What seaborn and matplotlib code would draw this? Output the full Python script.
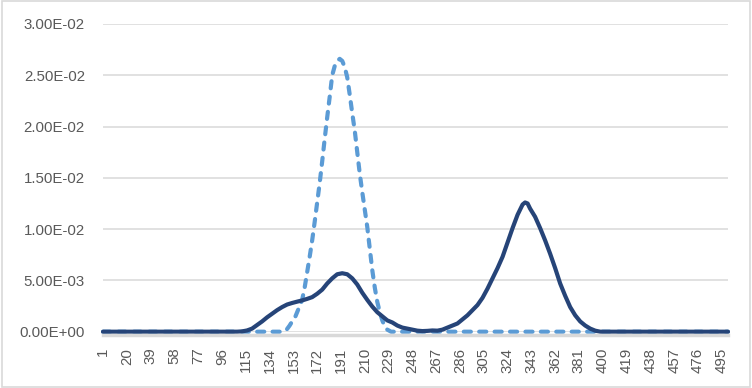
import matplotlib
matplotlib.use('Agg')
import pandas as pd
import matplotlib.pyplot as plt
import seaborn as sns
from matplotlib.patches import Rectangle
from matplotlib.ticker import FuncFormatter

# values (x = category number 1..500)
solid_x = [1, 108, 112, 116, 120, 124, 128, 132, 136, 140, 144, 148, 152,
           156, 160, 164, 168, 172, 176, 180, 184, 188, 192, 196, 200, 204,
           208, 212, 216, 220, 224, 228, 232, 236, 240, 244, 248, 252, 256,
           260, 264, 268, 272, 276, 280, 284, 288, 292, 296, 300, 304, 308,
           312, 316, 320, 324, 328, 332, 336, 338, 340, 342, 346, 350, 354,
           358, 362, 366, 370, 374, 378, 382, 386, 390, 394, 398, 500]
solid_y = [0, 0, 0.00003, 0.00012, 0.0003, 0.00065, 0.001, 0.0014, 0.00175,
           0.0021, 0.0024, 0.00265, 0.0028, 0.00293, 0.00305, 0.0032,
           0.00337, 0.0037, 0.0041, 0.0047, 0.0052, 0.0056, 0.0057, 0.0056,
           0.0052, 0.0046, 0.0038, 0.0031, 0.00245, 0.0019, 0.0015, 0.0011,
           0.0009, 0.0006, 0.0004, 0.0003, 0.0002, 0.0001, 0.00006, 0.00008,
           0.00012, 0.0001, 0.0002, 0.0004, 0.0006, 0.0008, 0.0012, 0.0016,
           0.0021, 0.0026, 0.0033, 0.0042, 0.0052, 0.0062, 0.0073, 0.0087,
           0.0101, 0.0114, 0.0124, 0.0126, 0.0125, 0.0120, 0.0112, 0.0101,
           0.0089, 0.0076, 0.0062, 0.0047, 0.0035, 0.0024, 0.0016, 0.0010,
           0.0006, 0.0003, 0.0001, 0, 0]

dashed_x = [1, 140, 144, 147, 150, 152, 154, 156, 158, 160, 162, 164, 166,
            168, 170, 172, 174, 176, 178, 180, 182, 184, 186, 188, 190, 192,
            194, 196, 198, 200, 202, 204, 206, 208, 210, 212, 214, 216, 218,
            220, 222, 224, 226, 228, 231, 500]
dashed_y = [0, 0, 0, 0.0001, 0.0006, 0.0010, 0.0013, 0.0019, 0.0025, 0.0031,
            0.0043, 0.0058, 0.0073, 0.0089, 0.0107, 0.0126, 0.0145, 0.0166,
            0.0188, 0.0209, 0.0229, 0.0250, 0.0259, 0.0264, 0.0266, 0.0264,
            0.0258, 0.0248, 0.0231, 0.0213, 0.0196, 0.0175, 0.0154, 0.0136,
            0.0119, 0.0102, 0.0081, 0.0060, 0.0043, 0.0029, 0.0019, 0.0011,
            0.0005, 0.0002, 0, 0]

x_ticks = [1, 20, 39, 58, 77, 96, 115, 134, 153, 172, 191, 210, 229, 248,
           267, 286, 305, 324, 343, 362, 381, 400, 419, 438, 457, 476, 495]
y_ticks = [0, 0.005, 0.01, 0.015, 0.02, 0.025, 0.03]

solid = pd.DataFrame({'x': solid_x, 'y': solid_y})
dashed = pd.DataFrame({'x': dashed_x, 'y': dashed_y})

sns.set_style('white')
plt.rcParams['font.family'] = ['Liberation Sans', 'DejaVu Sans']

fig = plt.figure(figsize=(7.52, 3.88), dpi=100)
ax = fig.add_axes([103 / 752, (388 - 331.7) / 388, 625 / 752, 307.7 / 388])

# dashed series first, solid drawn on top
sns.lineplot(data=dashed, x='x', y='y', ax=ax, color='#5B9BD5', lw=3.0,
             estimator=None, sort=False, clip_on=False)
ln = ax.lines[-1]
ln.set_dashes([1.7, 2.0])
ln.set_dash_capstyle('round')
ln.set_solid_joinstyle('round')

sns.lineplot(data=solid, x='x', y='y', ax=ax, color='#264478', lw=3.0,
             estimator=None, sort=False, clip_on=False)
ax.lines[-1].set_solid_capstyle('round')
ax.lines[-1].set_solid_joinstyle('round')

ax.set_xlim(1, 500)
ax.set_ylim(0, 0.03)
ax.set_xticks(x_ticks)
ax.set_xticklabels([str(t) for t in x_ticks])
ax.set_yticks(y_ticks)
ax.yaxis.set_major_formatter(FuncFormatter(lambda v, p: f'{v:.2E}'))
ax.set_xlabel('')
ax.set_ylabel('')

ax.grid(axis='y', color='#D9D9D9', lw=1.1)
ax.set_axisbelow(True)
ax.tick_params(axis='x', length=0, pad=9, labelsize=10.8, colors='#595959',
               labelrotation=90)
ax.tick_params(axis='y', length=0, pad=13, labelsize=10.8, colors='#595959')

for s in ['top', 'right', 'left']:
    ax.spines[s].set_visible(False)
ax.spines['bottom'].set_color('#D9D9D9')
ax.spines['bottom'].set_linewidth(2.5)
ax.spines['bottom'].set_position(('outward', 2.5))

# chart border
fig.patches.append(Rectangle((0.002, 0.003), 0.995, 0.994,
                             transform=fig.transFigure, fill=False,
                             edgecolor='#D9D9D9', lw=1.2))

fig.savefig('out.png', dpi=100)
